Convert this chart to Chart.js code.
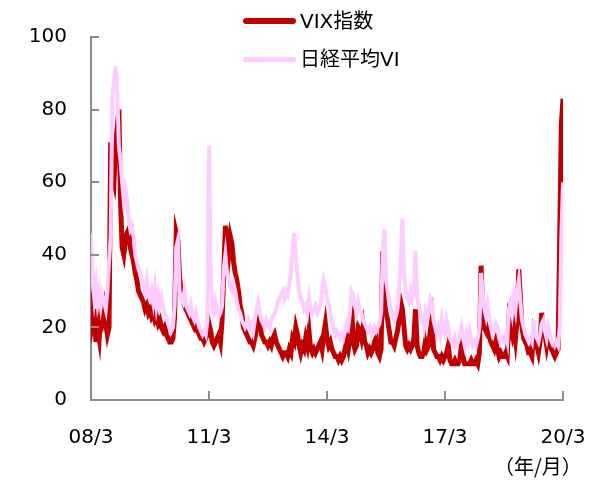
<!DOCTYPE html>
<html>
<head>
<meta charset="utf-8">
<script src="https://cdn.jsdelivr.net/npm/chart.js@4.4.1/dist/chart.umd.min.js"></script>
<style>
  body { margin: 0; background: #fff; }
  #wrap { position: relative; width: 600px; height: 482px; font-family: "DejaVu Sans", "Noto Sans CJK JP", sans-serif; color: #000; }
  canvas { position: absolute; left: 0; top: 0; }
  .leg { position: absolute; left: 243px; font-size: 20px; line-height: 24px; display: flex; align-items: center; }
  .leg i { display: inline-block; width: 53px; margin-right: 4px; border-radius: 3px; }
  #unit { position: absolute; left: 494px; top: 454px; font-size: 20px; font-family: "Noto Sans CJK JP", sans-serif; line-height: 24px; }
</style>
</head>
<body>
<div id="wrap">
  <canvas id="chart" width="600" height="482"></canvas>
  <div class="leg" style="top:9px"><i style="height:6px;background:#c00000"></i>VIX指数</div>
  <div class="leg" style="top:47px"><i style="height:5px;background:#ffccff"></i>日経平均VI</div>
  <div id="unit">（年/月）</div>
</div>
<script>
// 半月ごとの値 (08/3 から 20/3 まで)
const tickLabels = ["08/3", "11/3", "14/3", "17/3", "20/3"];
const tickMonths = [0, 36, 72, 108, 144];

const vix = [
  30,22,25,16,20,17,24,22,25,21,18,20,71,62,60,70,75,80,55,42,40,44,46,47,
  42,40,38,35,33,30,29,28,27,25,26,24,25,23,24,22,23,21,22,20,19,20,18,17,
  16,16,17,23,46,44,34,30,28,26,25,24,23,22,21,20,21,19,18,17,17,16,17,18,
  21,19,16,15,16,17,18,16,22,35,48,44,40,45,43,38,35,33,30,26,24,20,19,18,
  17,16,16,15,17,20,23,22,18,17,16,16,15,16,15,17,18,16,15,14,13,12,13,13,
  12,14,13,17,16,20,18,15,13,15,14,17,15,19,14,13,14,13,14,15,16,14,18,21,
  17,15,16,14,13,12,12,11,12,11,12,14,16,14,17,26,16,14,15,20,19,17,20,16,
  15,13,14,13,14,16,17,13,12,14,41,27,24,22,19,16,16,15,17,19,22,27,25,20,
  15,14,15,14,15,17,25,15,13,12,12,13,16,14,15,19,22,14,13,12,12,11,12,11,
  12,13,15,11,10,10,11,10,10,11,15,12,10,10,10,10,11,10,10,11,10,13,37,25,
  20,19,22,18,16,15,14,16,14,12,13,12,12,13,12,22,20,18,21,17,22,36,28,20,
  17,16,15,13,13,12,18,16,15,13,16,24,20,18,15,18,16,14,13,12,13,14,45,76,
  83
];

const nikkeiVI = [
  46,33,28,32,27,30,26,29,27,25,30,38,45,83,88,92,85,70,66,60,55,58,55,50,
  47,48,45,40,38,36,35,33,32,30,33,29,28,30,27,31,26,29,26,28,25,24,23,21,
  20,19,20,26,42,44,30,28,27,30,26,25,24,26,23,22,24,22,20,19,18,19,18,22,
  70,35,25,24,27,25,23,24,26,36,40,35,33,31,30,32,30,27,25,24,22,21,20,21,
  22,20,21,19,22,25,27,24,22,21,20,22,21,20,22,23,24,25,27,28,29,30,28,30,
  29,32,35,42,46,40,34,30,28,27,25,26,24,28,25,24,25,26,24,25,26,30,33,31,
  28,26,24,22,20,18,19,18,17,18,17,19,21,20,24,30,29,26,24,27,25,24,22,21,
  20,19,20,18,19,20,19,20,21,24,40,47,33,30,27,25,24,22,23,25,30,38,50,35,
  30,28,27,30,28,30,41,28,26,24,22,20,24,22,24,28,27,22,20,18,20,18,22,19,
  18,22,20,17,16,15,17,15,16,18,20,17,15,18,16,19,17,15,16,15,17,20,35,30,
  25,23,26,22,20,18,19,21,20,17,16,17,16,18,16,25,27,24,28,25,30,33,27,22,
  20,18,17,16,17,16,22,18,17,16,18,21,22,19,17,20,18,16,15,15,16,15,20,45,
  60
];

function toPoints(arr) {
  return arr.map((v, i) => ({ x: i / 2, y: v }));
}

const axisColor = "#8c8c8c";

// 内向きの目盛り
const innerTicks = {
  id: "innerTicks",
  afterDraw(chart) {
    const ctx = chart.ctx;
    const x = chart.scales.x;
    const y = chart.scales.y;
    ctx.save();
    ctx.strokeStyle = axisColor;
    ctx.lineWidth = 2;
    ctx.beginPath();
    [0, 20, 40, 60, 80, 100].forEach(v => {
      const py = Math.round(y.getPixelForValue(v));
      ctx.moveTo(x.left, py);
      ctx.lineTo(x.left + 8, py);
    });
    tickMonths.forEach(m => {
      const px = Math.round(x.getPixelForValue(m));
      ctx.moveTo(px, y.bottom);
      ctx.lineTo(px, y.bottom - 9);
    });
    ctx.stroke();
    ctx.restore();
  }
};

// 日経平均VIを先に置くと上に描かれる
new Chart(document.getElementById("chart"), {
  type: "line",
  data: {
    datasets: [
      {
        label: "日経平均VI",
        data: toPoints(nikkeiVI),
        borderColor: "#ffccff",
        borderWidth: 4,
        pointRadius: 0,
        tension: 0,
      },
      {
        label: "VIX指数",
        data: toPoints(vix),
        borderColor: "#c00000",
        borderWidth: 5,
        pointRadius: 0,
        tension: 0,
      },
    ],
  },
  options: {
    responsive: false,
    animation: false,
    layout: { padding: { left: 0, top: 37, right: 37, bottom: 0 } },
    plugins: {
      legend: { display: false },
      tooltip: { enabled: false },
    },
    scales: {
      x: {
        type: "linear",
        min: 0,
        max: 144,
        grid: { display: false, drawTicks: false },
        border: { display: true, color: axisColor, width: 2 },
        afterBuildTicks: (scale) => {
          scale.ticks = tickMonths.map(v => ({ value: v }));
        },
        afterFit: (scale) => {
          scale.height = 82;
          scale.paddingLeft = 0;
          scale.paddingRight = 0;
        },
        ticks: {
          padding: 26,
          maxRotation: 0,
          color: "#000",
          font: { family: "DejaVu Sans", size: 20 },
          callback: (v) => tickLabels[tickMonths.indexOf(v)],
        },
      },
      y: {
        min: 0,
        max: 100,
        grid: { display: false, drawTicks: false },
        border: { display: true, color: axisColor, width: 2 },
        afterFit: (scale) => { scale.width = 91; },
        ticks: {
          stepSize: 20,
          padding: 24,
          color: "#000",
          font: { family: "DejaVu Sans", size: 20 },
        },
      },
    },
  },
  plugins: [innerTicks],
});
</script>
</body>
</html>
